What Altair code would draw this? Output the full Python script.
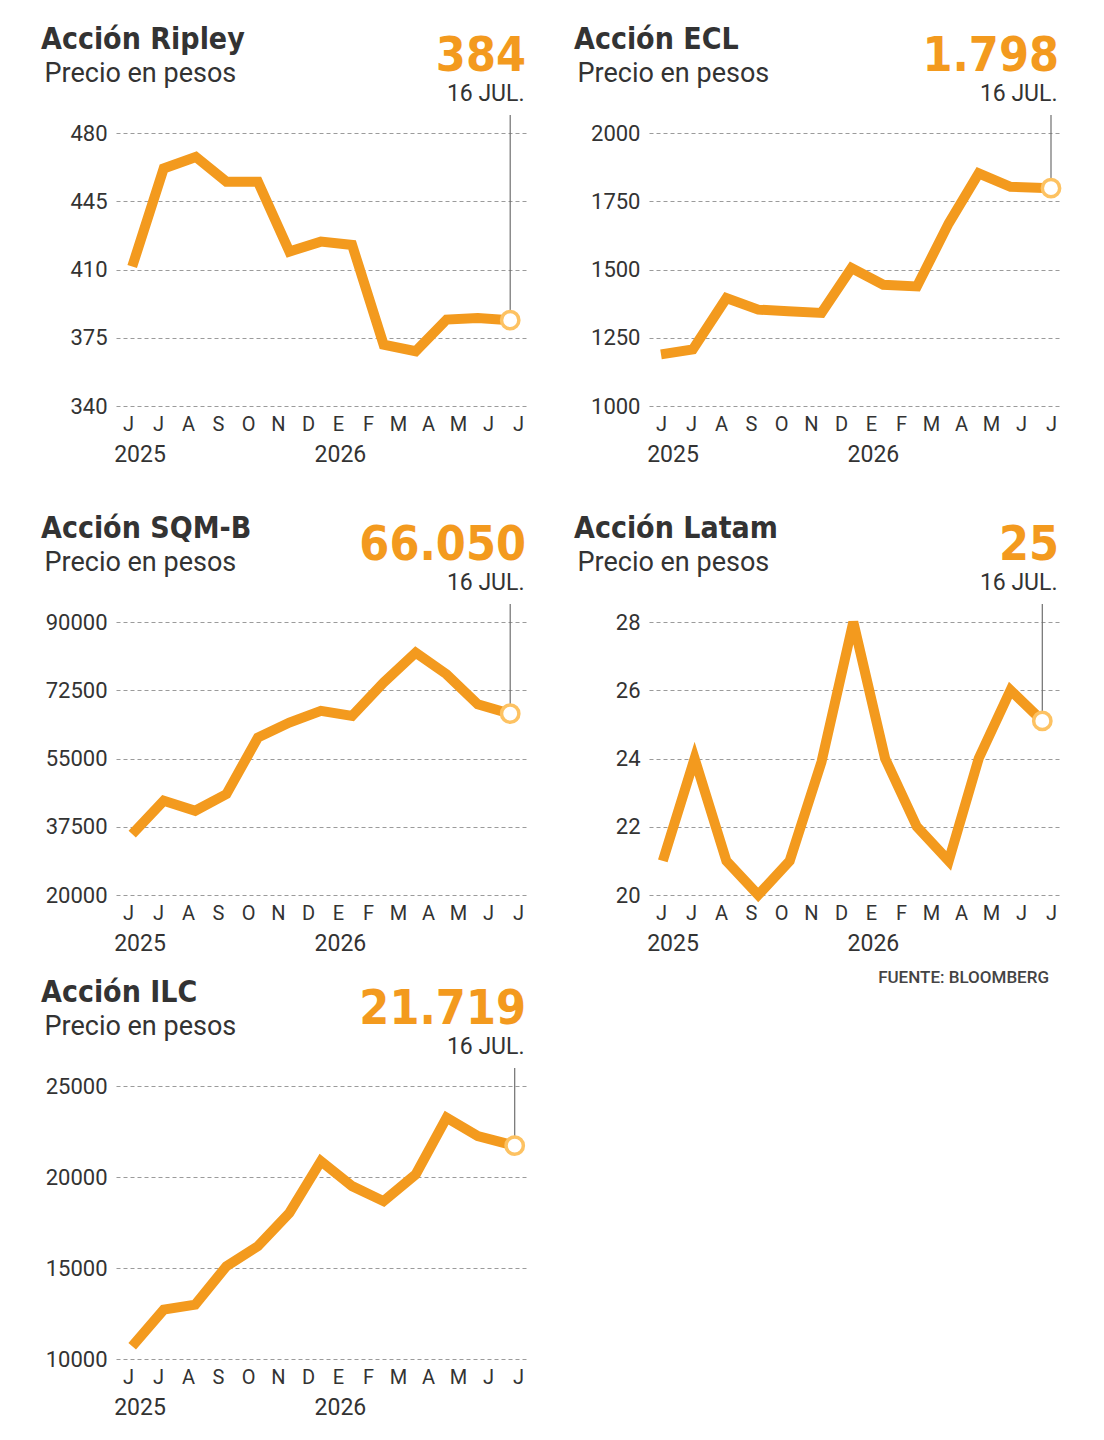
import json
import altair as alt
import pandas as pd

# ---------------- data ----------------
month_letters = ["J", "J", "A", "S", "O", "N", "D", "E", "F", "M", "A", "M", "J", "J"]
years = ["2025", "2026"]
year_pos = [0.4, 7.08]

ripley_x = [0.14, 1.19, 2.26, 3.28, 4.33, 5.38, 6.43, 7.47, 8.52, 9.59, 10.62, 11.66, 12.74]
ripley_y = [411.5, 461.8, 467.7, 455, 455, 419.2, 424.3, 422.6, 371.5, 368.1, 384.3, 385.1, 384]
ripley_ticks = [340, 375, 410, 445, 480]

ecl_x = [0.0, 1.06, 2.18, 3.24, 4.24, 5.35, 6.35, 7.41, 8.53, 9.59, 10.59, 11.65, 13.0]
ecl_y = [1189, 1207, 1395, 1353, 1347, 1341, 1505, 1444, 1438, 1669, 1852, 1803, 1798]
ecl_ticks = [1000, 1250, 1500, 1750, 2000]

sqm_x = [0.14, 1.19, 2.24, 3.28, 4.33, 5.38, 6.43, 7.47, 8.52, 9.59, 10.62, 11.66, 12.74]
sqm_y = [35620, 44157, 41596, 45864, 60377, 64218, 67206, 65926, 74463, 82146, 76597, 68914, 66500]
sqm_ticks = [20000, 37500, 55000, 72500, 90000]

latam_x = [0.06, 1.12, 2.18, 3.24, 4.29, 5.35, 6.41, 7.47, 8.53, 9.59, 10.59, 11.65, 12.71]
latam_y = [21, 24, 21, 20, 21, 23.9, 28, 24, 22, 21, 24, 26, 25.1]
latam_ticks = [20, 22, 24, 26, 28]

ilc_x = [0.14, 1.19, 2.24, 3.28, 4.33, 5.38, 6.43, 7.47, 8.52, 9.59, 10.62, 11.66, 12.89]
ilc_y = [10696, 12713, 12988, 15097, 16197, 18031, 20874, 19498, 18673, 20140, 23258, 22249, 21719]
ilc_ticks = [10000, 15000, 20000, 25000]

titles = ["Acción Ripley", "Acción ECL", "Acción SQM-B", "Acción Latam", "Acción ILC"]
subtitle = "Precio en pesos"
last_values = ["384", "1.798", "66.050", "25", "21.719"]
date_label = "16 JUL."
source = "FUENTE: BLOOMBERG"

# ---------------- style ----------------
ORANGE = "#F39A1E"
LIGHT = "#FDC262"
DARK = "#333333"
W, H = 411, 273
XDOM = [-0.4, 13.3]
TITLE_FONT = "DejaVu Sans Condensed"
BODY_FONT = "Roboto"

label_expr = "%s[datum.value]" % json.dumps(month_letters)


def panel(title, value_label, xs, ys, ticks, top_pad=0, with_source=False):
    df = pd.DataFrame({"x": xs, "y": ys})
    last = df.tail(1)
    ph = H + top_pad
    ymax = ticks[-1] + top_pad * (ticks[-1] - ticks[0]) / H
    xscale = alt.Scale(domain=XDOM, nice=False, zero=False)
    yscale = alt.Scale(domain=[ticks[0], ymax], nice=False, zero=False)
    xaxis = alt.Axis(values=list(range(len(month_letters))), labelExpr=label_expr,
                     grid=False, domain=False, ticks=False, labelFlush=False,
                     labelOverlap=False, labelFontSize=20, labelFont=BODY_FONT,
                     labelColor=DARK, labelPadding=8, title=None)
    yaxis = alt.Axis(values=ticks, format="d", grid=True, gridDash=[4, 3],
                     gridColor="#9b9b9b", gridWidth=1, domain=False, ticks=False,
                     labelFontSize=22, labelFont=BODY_FONT, labelColor=DARK,
                     labelPadding=9, title=None, labelOverlap=False)

    X = alt.X("x:Q", scale=xscale, axis=xaxis)
    Y = alt.Y("y:Q", scale=yscale, axis=yaxis)

    line = alt.Chart(df).mark_line(color=ORANGE, strokeWidth=10, strokeJoin="miter",
                                   strokeCap="butt").encode(x=X, y=Y)
    rule = alt.Chart(last).mark_rule(color="#6f6f6f", strokeWidth=1.2).encode(
        x=X, y=Y, y2=alt.value(top_pad - 18))
    dot = alt.Chart(last).mark_circle(fill="white", stroke=LIGHT, strokeWidth=3.5,
                                      size=300, opacity=1).encode(x=X, y=Y)
    ydf = pd.DataFrame({"x": year_pos, "year": years})
    year_text = alt.Chart(ydf).mark_text(font=BODY_FONT, fontSize=23, color=DARK,
                                         baseline="alphabetic", align="center").encode(
        x=X, y=alt.value(ph + 56), text="year:N")
    tdf = pd.DataFrame({"t": [title], "s": [subtitle], "v": [value_label], "d": [date_label]})
    t1 = alt.Chart(tdf).mark_text(font=TITLE_FONT, fontWeight="bold", fontSize=30,
                                  color=DARK, align="left", baseline="alphabetic").encode(
        x=alt.value(-75), y=alt.value(top_pad - 84), text="t:N")
    t2 = alt.Chart(tdf).mark_text(font=BODY_FONT, fontSize=27, color=DARK,
                                  align="left", baseline="alphabetic").encode(
        x=alt.value(-71.5), y=alt.value(top_pad - 51), text="s:N")
    t3 = alt.Chart(tdf).mark_text(font=TITLE_FONT, fontWeight="bold", fontSize=48,
                                  color=ORANGE, align="right", baseline="alphabetic").encode(
        x=alt.value(W - 1), y=alt.value(top_pad - 62), text="v:N")
    t4 = alt.Chart(tdf).mark_text(font=BODY_FONT, fontSize=23, color=DARK,
                                  align="right", baseline="alphabetic").encode(
        x=alt.value(W - 2.5), y=alt.value(top_pad - 32.5), text="d:N")
    layers = [line, rule, dot, year_text, t1, t2, t3, t4]
    if with_source:
        sdf = pd.DataFrame({"src": [source]})
        layers.append(alt.Chart(sdf).mark_text(font=BODY_FONT, fontSize=17, fontWeight=500,
                                               color="#444444", align="right",
                                               baseline="alphabetic").encode(
            x=alt.value(W - 11), y=alt.value(ph + 88), text="src:N"))
    return alt.layer(*layers).properties(width=W, height=ph)


# row 2 panels get extra room above their top gridline so that the rows keep
# the reference's unequal vertical gaps
p_ripley = panel(titles[0], last_values[0], ripley_x, ripley_y, ripley_ticks)
p_ecl = panel(titles[1], last_values[1], ecl_x, ecl_y, ecl_ticks)
p_sqm = panel(titles[2], last_values[2], sqm_x, sqm_y, sqm_ticks, top_pad=25)
p_latam = panel(titles[3], last_values[3], latam_x, latam_y, latam_ticks, top_pad=25,
                with_source=True)
p_ilc = panel(titles[4], last_values[4], ilc_x, ilc_y, ilc_ticks)

chart = alt.concat(p_ripley, p_ecl, p_sqm, p_latam, p_ilc, columns=2,
                   spacing={"row": 191, "column": 122}, bounds="flush").properties(
    padding={"left": 33, "top": 17, "right": 5, "bottom": 5},
    background="white",
).configure_view(stroke="transparent", strokeWidth=0)

chart.save("out.html", embed_options={"renderer": "svg", "actions": False})
